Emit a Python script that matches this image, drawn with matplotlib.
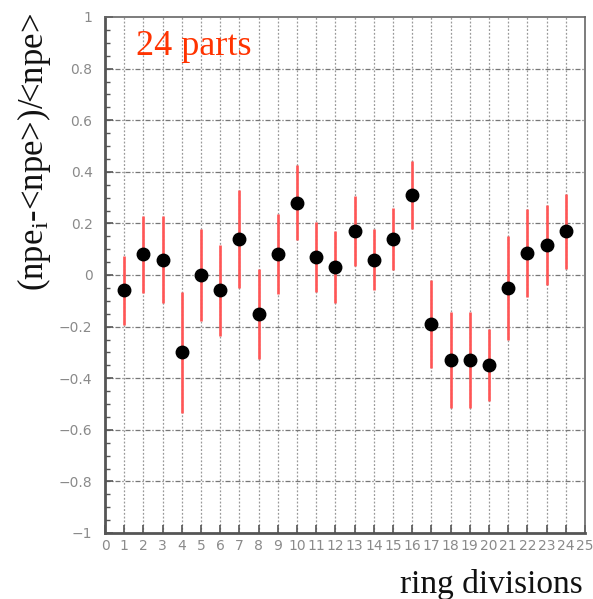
import numpy as np
import matplotlib
matplotlib.use("Agg")
import matplotlib.pyplot as plt
from matplotlib.ticker import MultipleLocator

# ring division index and relative deviation of npe
divisions = list(range(1, 25))
npe_dev = [-0.06, 0.08, 0.06, -0.30, 0.00, -0.06, 0.14, -0.15,
           0.08, 0.28, 0.07, 0.03, 0.17, 0.06, 0.14, 0.31,
           -0.19, -0.33, -0.33, -0.35, -0.05, 0.085, 0.115, 0.17]
npe_err = [0.135, 0.15, 0.17, 0.235, 0.18, 0.175, 0.19, 0.175,
           0.155, 0.145, 0.135, 0.14, 0.135, 0.12, 0.12, 0.13,
           0.17, 0.185, 0.185, 0.14, 0.20, 0.17, 0.155, 0.145]
x_ticks = list(range(0, 26))
y_ticks = [-1, -0.8, -0.6, -0.4, -0.2, 0, 0.2, 0.4, 0.6, 0.8, 1]
y_labels = ['\u22121', '\u22120.8', '\u22120.6', '\u22120.4', '\u22120.2', '0',
            '0.2', '0.4', '0.6', '0.8', '1']

plt.rcParams['mathtext.fontset'] = 'custom'
plt.rcParams['mathtext.rm'] = 'Liberation Serif'
plt.rcParams['mathtext.it'] = 'Liberation Serif:italic'

fig = plt.figure(figsize=(5.93, 5.99), dpi=100)
ax = fig.add_axes([105 / 593, 1 - 533 / 599, 480 / 593, 516 / 599])

# grid: dotted verticals at every division, dash-dot horizontals
for xv in x_ticks[1:-1]:
    ax.axvline(xv, color='#999999', lw=0.9, ls=(0, (1.5, 1.5)), zorder=0)
for yv in y_ticks[1:-1]:
    ax.axhline(yv, color='#777777', lw=0.9, ls=(0, (4, 1.5, 1, 1.5)), zorder=0)

ax.errorbar(divisions, npe_dev, yerr=npe_err, fmt='none', ecolor='#ff5555',
            elinewidth=1.9, capsize=0, zorder=2)
ax.plot(divisions, npe_dev, 'o', color='black', markersize=9, zorder=3)

ax.set_xlim(0, 25)
ax.set_ylim(-1, 1)
ax.set_xticks(x_ticks)
ax.set_yticks(y_ticks)
ax.set_yticklabels(y_labels)
ax.yaxis.set_minor_locator(MultipleLocator(0.05))
ax.tick_params(axis='both', which='major', direction='in', length=6, width=1.2,
               colors='#555555', labelcolor='#8a8a8a', labelsize=10)
ax.tick_params(axis='y', which='minor', direction='in', length=3.5, width=1,
               colors='#555555')
ax.tick_params(axis='x', pad=4)
ax.tick_params(axis='y', pad=9)

for side in ['left', 'bottom']:
    ax.spines[side].set_linewidth(2)
    ax.spines[side].set_color('#555555')
for side in ['right', 'top']:
    ax.spines[side].set_linewidth(1.2)
    ax.spines[side].set_color('#666666')

ax.text(0.065, 0.975, '24 parts', transform=ax.transAxes, color='#ff3300',
        fontsize=26, family='Liberation Serif', va='top', ha='left')

fig.text(34 / 593, 1 - 152 / 599, r'(npe$_{\mathrm{i}}$-<npe>)/<npe>',
         rotation=90, fontsize=25, family='Liberation Serif',
         ha='center', va='center', color='#111111')
fig.text(583 / 593, 1 - 585 / 599, 'ring divisions', fontsize=24,
         family='Liberation Serif', ha='right', va='center', color='#111111')

fig.savefig('out.png', dpi=100)
